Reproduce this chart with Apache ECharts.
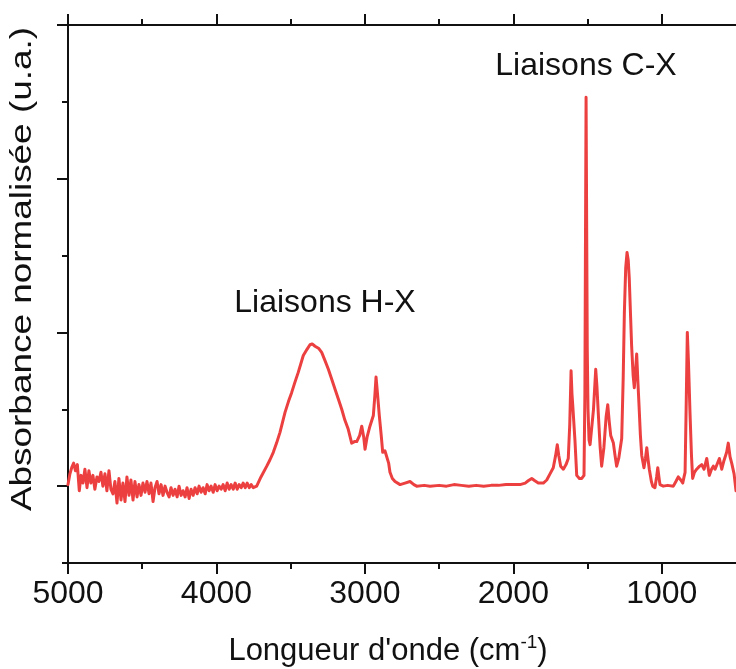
<!DOCTYPE html>
<html><head><meta charset="utf-8">
<script src="https://cdn.jsdelivr.net/npm/echarts@6.0.0/dist/echarts.min.js"></script>
<style>html,body{margin:0;padding:0;background:#fff;}#chart{width:736px;height:669px;}</style>
</head><body><div id="chart"></div>
<script>
// Wavenumber (cm-1), decreasing
const wavenumber = [
5000,4987,4975,4962,4950,4937,4924,4912,4899,4886,4872,4859,4846,4832,4819,4805,4792,4778,4765,4751,
4738,4724,4711,4697,4684,4670,4657,4643,4630,4616,4603,4589,4576,4562,4549,4535,4522,4508,4495,4481,
4468,4454,4441,4427,4414,4400,4387,4373,4360,4346,4333,4319,4306,4292,4279,4265,4252,4238,4225,4211,
4198,4184,4171,4157,4144,4130,4117,4103,4090,4076,4063,4049,4036,4022,4009,3995,3982,3968,3955,3941,
3928,3914,3901,3887,3874,3860,3847,3833,3820,3806,3793,3779,3766,3752,3739,3729,
3700,3661,3640,3617,3595,3572,3538,3515,3493,3470,3449,3415,3390,3370,3355,3336,3310,3291,3270,3246,
3225,3201,3180,3156,3135,3112,3089,3070,3055,3035,3021,3008,2999,2985,2966,2943,2932,2925,2915,2903,
2890,2880,2865,2853,2840,2831,2815,2797,2763,2730,2696,2670,2651,2600,2561,2500,2450,2400,2350,2300,
2250,2200,2150,2100,2050,2000,1955,1920,1900,1876,1855,1832,1798,1775,1753,1731,1715,1704,1694,1681,
1663,1645,1630,1620,1611,1605,1600,1591,1585,1573,1555,1539,1524,1518,1514,1510,1506,1502,1497,1490,
1483,1472,1460,1445,1437,1428,1415,1405,1390,1375,1364,1354,1344,1326,1315,1304,1290,1270,1260,1252,
1243,1234,1226,1219,1210,1203,1193,1185,1177,1169,1161,1153,1144,1135,1120,1110,1101,1092,1084,1070,
1061,1046,1035,1027,1018,1012,990,960,922,905,889,872,859,850,843,836,828,820,810,800,
792,780,765,745,731,715,697,680,665,653,641,630,612,596,583,574,563,552,540,529,
513,500
];
// Normalised absorbance (a.u.)
const absorbance = [
0.01,0.08,0.12,0.15,0.10,0.14,-0.03,0.07,0.02,0.11,-0.01,0.10,0.02,0.07,-0.02,0.06,0.03,0.09,0.00,0.08,
-0.03,0.10,-0.02,-0.05,0.03,-0.11,0.05,-0.09,0.02,-0.10,0.06,-0.06,0.04,-0.09,0.03,-0.07,0.01,-0.06,0.02,-0.04,
0.03,-0.05,0.02,-0.10,-0.01,0.03,-0.05,0.01,-0.06,0.00,-0.04,-0.07,-0.01,-0.06,-0.02,-0.07,0.00,-0.06,-0.03,-0.07,
-0.01,-0.08,-0.02,-0.06,-0.01,-0.05,0.00,-0.04,-0.01,-0.05,0.01,-0.03,0.00,-0.04,0.01,-0.03,0.00,-0.02,0.01,-0.03,
0.02,-0.02,0.01,-0.02,0.02,-0.02,0.01,-0.01,0.02,-0.01,0.02,-0.01,0.01,-0.01,0.00,0.00,
0.06,0.13,0.17,0.22,0.28,0.35,0.48,0.55,0.61,0.68,0.74,0.85,0.89,0.92,0.925,0.91,0.895,0.87,0.82,0.76,
0.70,0.63,0.57,0.50,0.43,0.37,0.28,0.29,0.29,0.33,0.39,0.32,0.24,0.32,0.39,0.46,0.60,0.71,0.60,0.46,
0.33,0.22,0.23,0.23,0.15,0.09,0.05,0.03,0.01,0.02,0.03,0.01,0.0,0.005,0.0,0.005,0.0,0.01,0.005,0.0,
0.005,0.0,0.005,0.005,0.01,0.01,0.01,0.02,0.035,0.05,0.035,0.02,0.02,0.04,0.08,0.12,0.2,0.27,0.2,0.13,
0.11,0.14,0.18,0.4,0.75,0.6,0.53,0.52,0.3,0.07,0.05,0.05,0.07,0.6,1.6,2.53,1.7,0.9,0.5,0.3,
0.27,0.28,0.5,0.76,0.65,0.48,0.25,0.13,0.25,0.45,0.53,0.42,0.33,0.28,0.2,0.13,0.18,0.31,0.7,1.13,
1.42,1.52,1.47,1.35,1.1,0.91,0.72,0.64,0.75,0.86,0.68,0.52,0.33,0.2,0.12,0.18,0.25,0.17,0.11,0.03,
0.0,-0.01,0.06,0.12,0.05,0.01,0.0,0.005,0.0,0.03,0.06,0.04,0.02,0.06,0.09,0.5,1.0,0.8,0.48,0.2,
0.05,0.09,0.11,0.13,0.14,0.11,0.18,0.07,0.11,0.13,0.11,0.11,0.18,0.11,0.16,0.15,0.22,0.28,0.19,0.15,
0.08,-0.03
];
const majorTicksX = [1000, 2000, 3000, 4000, 5000];
const minorTicksX = [1500, 2500, 3500, 4500];
const majorTicksY = [0, 1, 2, 3];
const minorTicksY = [-0.5, 0.5, 1.5, 2.5];
const xTitle = "Longueur d'onde (cm{sup|-1})";
const yTitle = "Absorbance normalisée (u.a.)";
const notes = ["Liaisons H-X", "Liaisons C-X"];

const FONT = '"Liberation Sans", Arial, Helvetica, sans-serif';
const INK = '#111111';
const LINE = '#ec4040';

function xAx(pos, ticks, len, showLine, showLabel) {
  return {
    type: 'value', gridIndex: 0, position: pos, min: 500, max: 5000, inverse: true,
    axisLine: {show: showLine, onZero: false, lineStyle: {color: INK, width: 2}},
    axisTick: {show: true, inside: false, length: len, customValues: ticks, lineStyle: {color: INK, width: 2}},
    axisLabel: showLabel ? {show: true, customValues: ticks, fontSize: 32, fontFamily: FONT, color: INK, margin: 15,
      formatter: v => String(v)} : {show: false},
    splitLine: {show: false}
  };
}
function yAx(ticks, len, showLine) {
  return {
    type: 'value', gridIndex: 0, position: 'left', min: -0.5, max: 3,
    axisLine: {show: showLine, onZero: false, lineStyle: {color: INK, width: 2}},
    axisTick: {show: true, inside: false, length: len, customValues: ticks, lineStyle: {color: INK, width: 2}},
    axisLabel: {show: false},
    splitLine: {show: false}
  };
}

const chart = echarts.init(document.getElementById('chart'), null, {renderer: 'canvas'});
chart.setOption({
  animation: false,
  backgroundColor: '#ffffff',
  grid: {left: 68, right: 0, top: 25, bottom: 106, containLabel: false},
  xAxis: [
    xAx('bottom', majorTicksX, 11, true, true),
    xAx('bottom', minorTicksX, 6, false, false),
    xAx('top', majorTicksX, 11, true, false),
    xAx('top', minorTicksX, 6, false, false)
  ],
  yAxis: [
    yAx(majorTicksY, 11, true),
    yAx(minorTicksY, 6, false)
  ],
  series: [{
    type: 'line', xAxisIndex: 0, yAxisIndex: 0,
    data: wavenumber.map((w, i) => [w, absorbance[i]]),
    showSymbol: false, symbol: 'none', smooth: false,
    lineStyle: {color: LINE, width: 3, cap: 'round', join: 'round'},
    clip: true
  }],
  graphic: [
    {type: 'text', x: 23, y: 269, rotation: Math.PI / 2, scaleX: 1.23,
     style: {text: yTitle, x: 0, y: 0, font: '30px ' + FONT, fill: INK,
       align: 'center', verticalAlign: 'middle', textAlign: 'center', textVerticalAlign: 'middle'}},
    {type: 'text', x: 388, y: 651,
     style: {text: xTitle, x: 0, y: 0, fontSize: 31, fontFamily: FONT, fill: INK,
       align: 'center', verticalAlign: 'middle', textAlign: 'center', textVerticalAlign: 'middle',
       rich: {sup: {fontSize: 19, fontFamily: FONT, fill: INK, verticalAlign: 'top', lineHeight: 36}}}},
    {type: 'text', x: 325, y: 303,
     style: {text: notes[0], x: 0, y: 0, font: '32px ' + FONT, fill: INK,
       align: 'center', verticalAlign: 'middle', textAlign: 'center', textVerticalAlign: 'middle'}},
    {type: 'text', x: 586, y: 66,
     style: {text: notes[1], x: 0, y: 0, font: '32px ' + FONT, fill: INK,
       align: 'center', verticalAlign: 'middle', textAlign: 'center', textVerticalAlign: 'middle'}}
  ]
});
</script></body></html>
